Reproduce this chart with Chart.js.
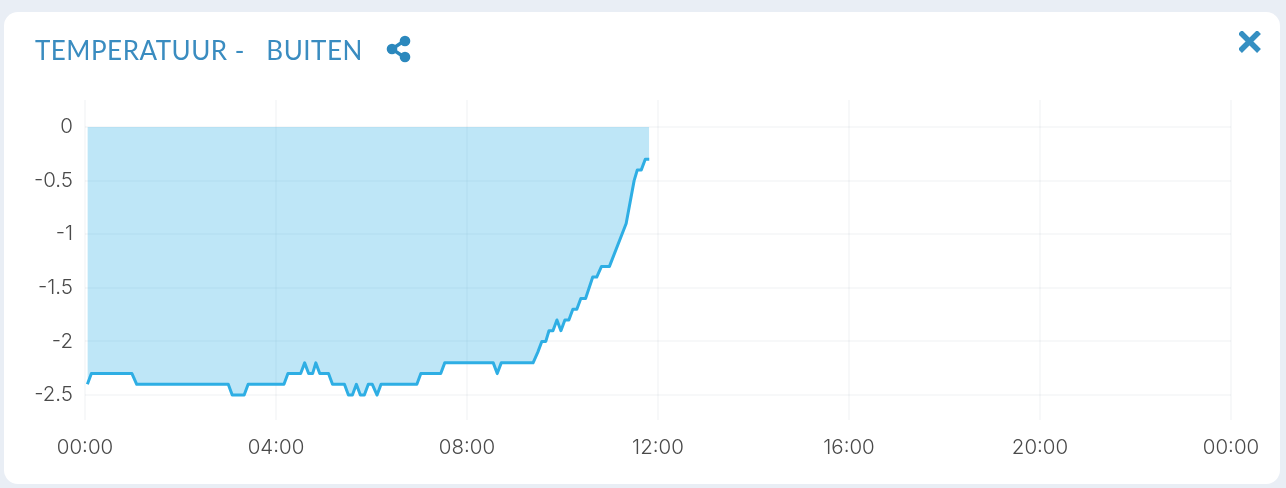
<!DOCTYPE html>
<html><head><meta charset="utf-8">
<style>
html,body{margin:0;padding:0;width:1286px;height:488px;overflow:hidden;background:#e9eef5;font-family:Lato,"Open Sans",sans-serif}
#card{position:absolute;left:4px;top:12px;width:1276px;height:472px;background:#fff;border-radius:14px}
#wrap{position:absolute;left:0;top:0;width:1286px;height:488px}
#title{position:absolute;left:35px;top:35px;font-size:26px;letter-spacing:0.5px;line-height:30px;color:#3a8cc0;white-space:pre}
svg{position:absolute}
</style></head><body>
<div id="card"></div>
<div id="wrap"><canvas id="c" width="1286" height="488"></canvas></div>
<div id="title">TEMPERATUUR -   BUITEN</div>
<svg style="left:386px;top:34px" width="26" height="30" viewBox="0 0 26 30"><path d="M18 7 L6 15 L18 23" fill="none" stroke="#2b88bd" stroke-width="3.4"/><circle cx="19" cy="7" r="5.3" fill="#2b88bd"/><circle cx="6" cy="15" r="5.3" fill="#2b88bd"/><circle cx="19" cy="23" r="5.3" fill="#2b88bd"/></svg>
<svg style="left:1239px;top:31px" width="22" height="22" viewBox="0 0 22 22"><path d="M1 1 L20 20 M20 1 L1 20" stroke="#358fc2" stroke-width="5.5"/></svg>
<script src="https://cdn.jsdelivr.net/npm/chart.js@4"></script>
<script>
const minutes=[3,8,59,65,180,185,200,205,250,255,271,276,281,286,290,295,306,311,326,331,336,341,346,351,356,361,367,372,417,422,447,452,513,518,523,563,569,574,579,583,588,593,598,603,608,613,618,623,629,638,643,649,659,680,690,694,699,704,709];
const temps=[-2.4,-2.3,-2.3,-2.4,-2.4,-2.5,-2.5,-2.4,-2.4,-2.3,-2.3,-2.2,-2.3,-2.3,-2.2,-2.3,-2.3,-2.4,-2.4,-2.5,-2.5,-2.4,-2.5,-2.5,-2.4,-2.4,-2.5,-2.4,-2.4,-2.3,-2.3,-2.2,-2.2,-2.3,-2.2,-2.2,-2.1,-2.0,-2.0,-1.9,-1.9,-1.8,-1.9,-1.8,-1.8,-1.7,-1.7,-1.6,-1.6,-1.4,-1.4,-1.3,-1.3,-0.9,-0.5,-0.4,-0.4,-0.3,-0.3];
const xTicks=[0,240,480,720,960,1200,1440];
const xLabels=['00:00','04:00','08:00','12:00','16:00','20:00','00:00'];
const yTicks=[0,-0.5,-1,-1.5,-2,-2.5];
const points=minutes.map((m,i)=>({x:m,y:temps[i]}));
new Chart(document.getElementById('c'),{
  type:'line',
  data:{datasets:[{data:points,borderColor:'#2eaee4',borderWidth:3,backgroundColor:'rgba(46,174,228,0.31)',fill:{value:0},pointRadius:0,tension:0,borderJoinStyle:'round'}]},
  options:{
    responsive:false,animation:false,
    layout:{padding:{top:100,right:55,left:0,bottom:0}},
    plugins:{legend:{display:false},tooltip:{enabled:false}},
    scales:{
      x:{type:'linear',min:0,max:1440,
        afterBuildTicks(s){s.ticks=xTicks.map(v=>({value:v}));},
        afterFit(s){s.height=68;},
        grid:{color:'rgba(30,50,80,0.035)',lineWidth:2,drawTicks:false},border:{display:false},
        ticks:{maxRotation:0,autoSkip:false,padding:16,color:'#4a4a4a',font:{family:'Inter',size:20.5,weight:'300'},callback:(v)=>xLabels[xTicks.indexOf(v)]}},
      y:{min:-2.733,max:0.252,
        afterBuildTicks(s){s.ticks=yTicks.map(v=>({value:v}));},
        afterFit(s){s.width=85;},
        grid:{color:'rgba(30,50,80,0.035)',lineWidth:2,drawTicks:false},border:{display:false},
        ticks:{autoSkip:false,padding:12,color:'#4a4a4a',font:{family:'Inter',size:20.5,weight:'300'},callback:(v)=>String(v)}}
    }
  }
});
</script>
</body></html>
